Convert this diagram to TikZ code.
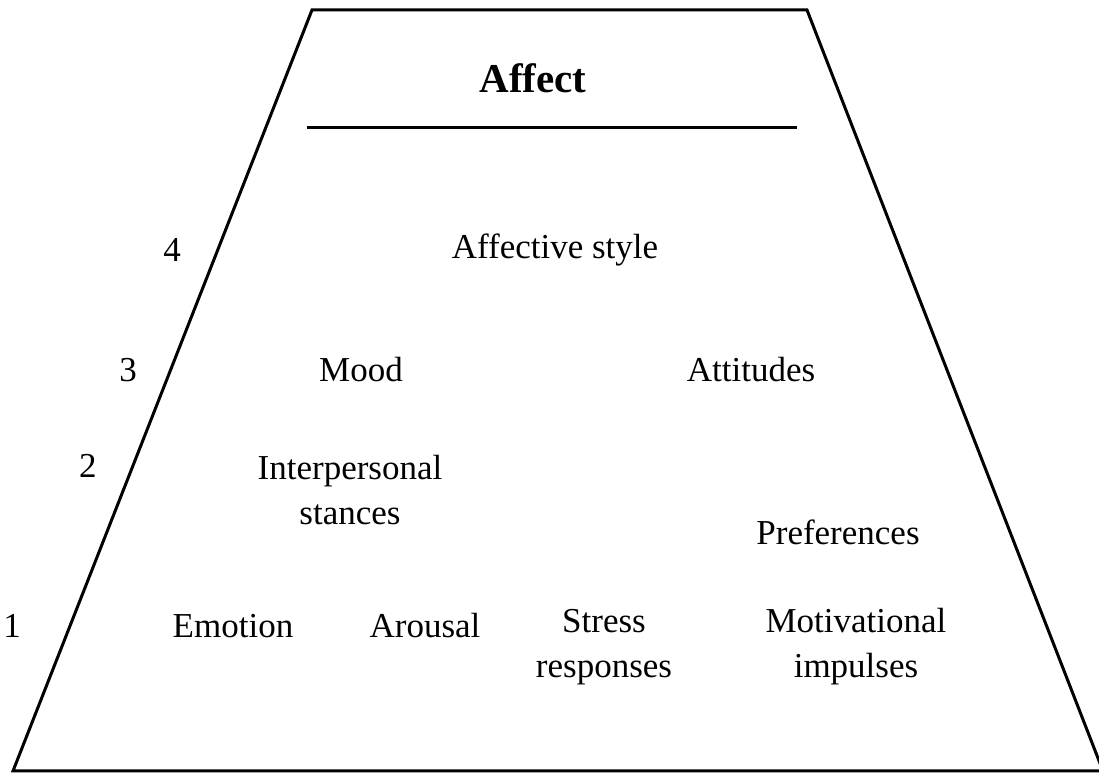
\documentclass[tikz,border=0pt]{standalone}
\usepackage{fontspec}
\setmainfont{Liberation Serif}
\usepackage{tikz}
\usetikzlibrary{positioning, calc}

\begin{document}
\begin{tikzpicture}[x=0.5pt, y=-0.5pt,
      label/.style={font=\fontsize{17.5}{22.5}\selectfont, align=center, inner sep=0pt, anchor=center},
      level/.style={font=\fontsize{17.5}{22.5}\selectfont, inner sep=0pt, anchor=center},
      edge/.style={draw=black, line width=1.5pt, line join=miter}
    ]
      \useasboundingbox (0,0) rectangle (1099,774);

      % Outline
      \coordinate (TL) at (312,10);
      \coordinate (TR) at (807,10);
      \coordinate (BR) at (1103,771);
      \coordinate (BL) at (13,771);
      \draw[edge] (TL) -- (TR) -- (BR) -- (BL) -- cycle;

      % Title
      \node[label, font=\fontsize{20.5}{24}\selectfont\bfseries] (affect) at (533,78) {Affect};
      \coordinate (ruleL) at (307,128);
      \coordinate (ruleR) at (797,128);
      \draw[edge] (ruleL) -- (ruleR);

      % Levels
      \node[label] (style) at (555,250) {Affective style};
      \node[label] (mood) at (361,370) {Mood};
      \node[label] (attitudes) at (751,370) {Attitudes};
      \node[label] (stances) at (350,490) {Interpersonal\\stances};
      \node[label] (preferences) at (838,532) {Preferences};
      \node[label] (emotion) at (233,626) {Emotion};
      \node[label] (arousal) at (425,626) {Arousal};
      \node[label] (stress) at (604,647) {Stress\\responses};
      \node[label] (impulses) at (856,647) {Motivational\\impulses};

      % Level numbers
      \node[level] (lvl4) at (172,250) {4};
      \node[level] (lvl3) at (128,370) {3};
      \node[level] (lvl2) at (88,466) {2};
      \node[level] (lvl1) at (12,626) {1};
    \end{tikzpicture}
\end{document}
